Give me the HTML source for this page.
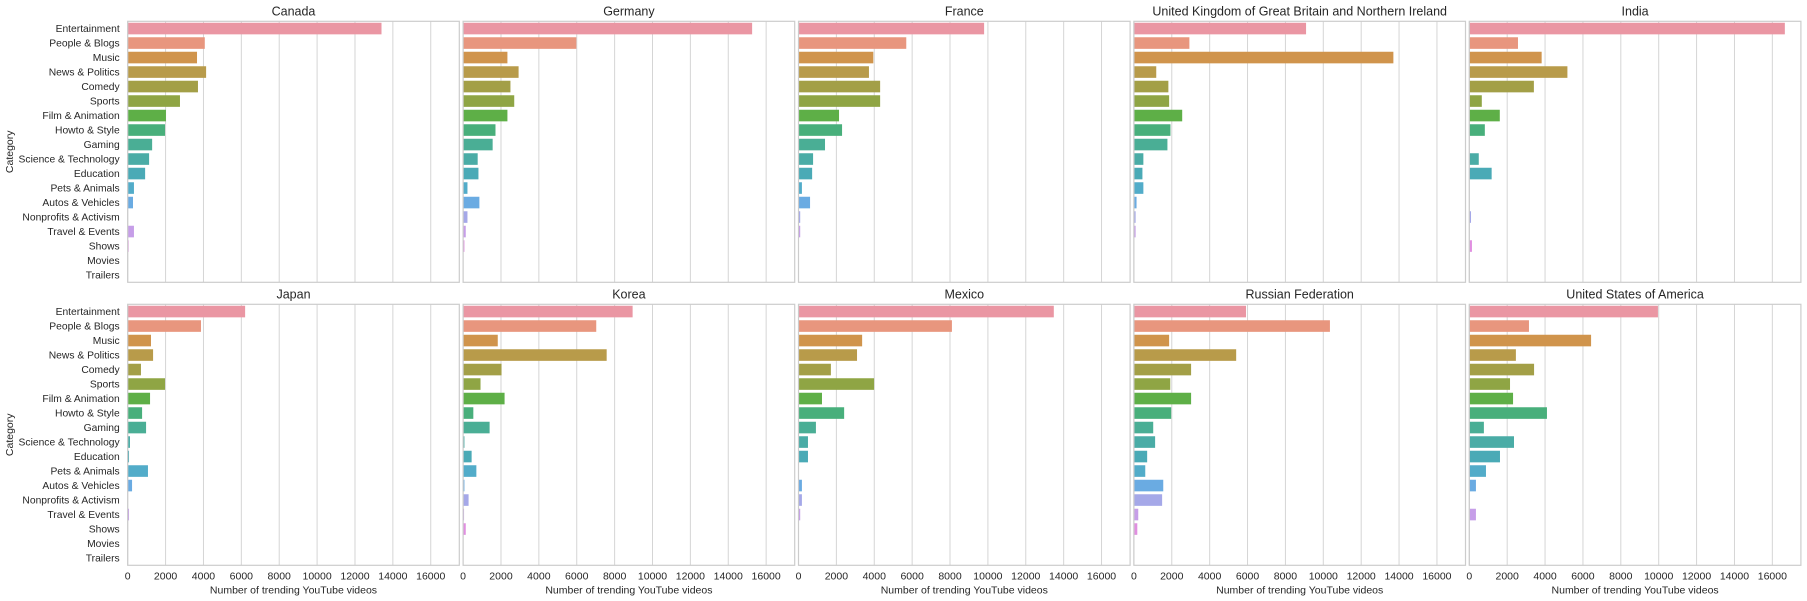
<!DOCTYPE html>
<html><head><meta charset="utf-8"><title>Trending YouTube videos by category</title>
<style>
html,body{margin:0;padding:0;background:#fff;}
svg{display:block;font-family:"Liberation Sans","DejaVu Sans",sans-serif;}
</style></head>
<body>
<svg id="chart" width="1807" height="601" viewBox="0 0 1807 601" xmlns="http://www.w3.org/2000/svg"></svg>
<script>
const categories = ["Entertainment","People & Blogs","Music","News & Politics","Comedy","Sports","Film & Animation","Howto & Style","Gaming","Science & Technology","Education","Pets & Animals","Autos & Vehicles","Nonprofits & Activism","Travel & Events","Shows","Movies","Trailers"];
const colors = ["#ea96a3","#e8967e","#d0944c","#b89b4a","#a39f47","#8fa544","#5eaf47","#48af7b","#4aae95","#4aaca6","#4aaab6","#52acc9","#6aabe2","#a5a8e8","#c69ee8","#e08fe0","#e592c6","#e893b5"];
const countries = ["Canada","Germany","France","United Kingdom of Great Britain and Northern Ireland","India","Japan","Korea","Mexico","Russian Federation","United States of America"];
const valsCanada = [13400,4070,3660,4140,3710,2760,2020,1970,1290,1130,920,330,280,0,330,50,0,0];
const valsGermany = [15260,5980,2340,2930,2500,2700,2340,1710,1560,770,810,230,860,230,140,70,0,0];
const valsFrance = [9800,5690,3950,3720,4310,4310,2140,2300,1400,770,720,180,610,90,90,0,0,0];
const valsUK = [9090,2930,13700,1180,1820,1860,2550,1930,1770,500,450,500,140,90,90,0,0,0];
const valsIndia = [16660,2570,3820,5180,3410,660,1610,820,0,500,1180,0,0,90,0,140,0,0];
const valsJapan = [6200,3870,1230,1340,700,1970,1180,760,970,120,70,1070,230,0,70,0,0,0];
const valsKorea = [8950,7030,1830,7580,2030,920,2190,540,1400,70,450,700,70,290,50,140,0,0];
const valsMexico = [13480,8100,3360,3090,1710,3990,1240,2410,920,500,500,0,180,180,90,0,0,0];
const valsRussia = [5920,10350,1860,5400,3020,1920,3020,1970,1020,1120,700,600,1550,1490,230,180,0,0];
const valsUSA = [9960,3150,6430,2460,3420,2150,2310,4100,770,2360,1620,880,350,0,350,0,0,0];
const xTicks = [0,2000,4000,6000,8000,10000,12000,14000,16000];
const seriesList = [valsCanada,valsGermany,valsFrance,valsUK,valsIndia,valsJapan,valsKorea,valsMexico,valsRussia,valsUSA];

const NS = "http://www.w3.org/2000/svg";
const svg = document.getElementById("chart");
const X0 = 127.7, PITCH = 335.4, PW = 331.6, PH = 261, XMAX = 17508;
const ROWS = [21.3, 304.3];
function mk(tag, attrs, parent){const e=document.createElementNS(NS,tag);for(const k in attrs)e.setAttribute(k,attrs[k]);(parent||svg).appendChild(e);return e;}

for (let p = 0; p < 10; p++) {
  const col = p % 5, row = Math.floor(p / 5);
  const left = X0 + col * PITCH, top = ROWS[row];
  const xs = v => left + v / XMAX * PW;
  const band = PH / categories.length;
  const ys = i => top + i * band;
  const g = mk("g", {});
  
  
  xTicks.forEach(t => {
    const l = mk("line", {x1: xs(t), x2: xs(t), y1: top, y2: top + PH, stroke: "#d5d5d5", "stroke-width": 1}, g);
    
    
  });
  const vals = seriesList[p];
  vals.forEach((v, i) => {
    if (v <= 0) return;
    const r = mk("rect", {x: xs(0), y: ys(i) + band * 0.1, width: xs(v) - xs(0), height: band * 0.8, fill: colors[i]}, g);
    
    
  });
  const frame = mk("rect", {x: left, y: top, width: PW, height: PH, fill: "none", stroke: "#cccccc", "stroke-width": 1.2}, g);
  
  
  const title = mk("text", {x: left + PW / 2, y: top - 6, "text-anchor": "middle", "font-size": 12.5, fill: "#262626"}, g);
  title.textContent = countries[p];
  
  
  if (col === 0) {
    categories.forEach((c, i) => {
      const t = mk("text", {x: left - 8, y: ys(i) + band / 2 + 3.5, "text-anchor": "end", "font-size": 10.3, fill: "#262626"}, g);
      t.textContent = c;
      
      
    });
    const yl = mk("text", {x: 0, y: 0, transform: "translate(13," + (top + PH / 2) + ") rotate(-90)", "text-anchor": "middle", "font-size": 10.5, fill: "#262626"}, g);
    yl.textContent = "Category";
    
    
  }
  if (row === 1) {
    xTicks.forEach(t => {
      const tl = mk("text", {x: xs(t), y: top + PH + 14, "text-anchor": "middle", "font-size": 10.5, fill: "#262626"}, g);
      tl.textContent = String(t);
      
      
    });
    const xl = mk("text", {x: left + PW / 2, y: top + PH + 28, "text-anchor": "middle", "font-size": 10.5, fill: "#262626"}, g);
    xl.textContent = "Number of trending YouTube videos";
    
    
  }
}
</script>
</body></html>
